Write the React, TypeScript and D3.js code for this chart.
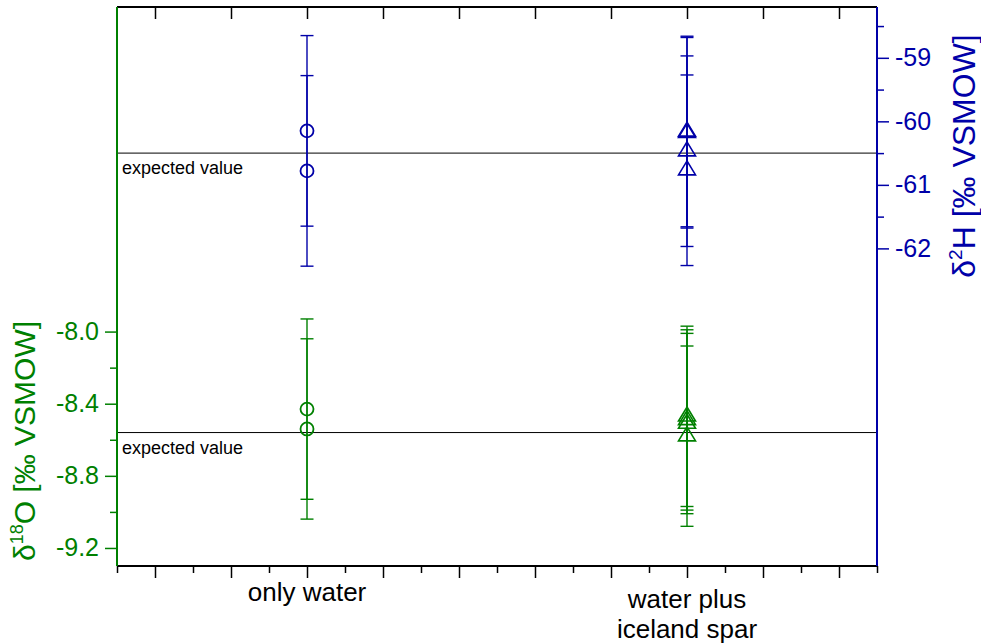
import { useEffect, useRef } from "react";
import * as d3 from "d3";

const categories = ["only water", "water plus\niceland spar"];
const catPos = [1, 2];

// δ18O (left axis)
const o18Water = [-8.43, -8.54];
const o18Spar = [-8.47, -8.49, -8.51, -8.58];
const o18Err = 0.5;
const o18Expected = -8.56;

// δ2H (right axis)
const h2Water = [-60.15, -60.78];
const h2Spar = [-60.16, -60.18, -60.47, -60.77];
const h2Err = 1.5;
const h2Expected = -60.5;

const leftMajor = [-8.0, -8.4, -8.8, -9.2];
const leftMinor = [-8.2, -8.6, -9.0];
const rightMajor = [-59, -60, -61, -62];
const rightMinor = [-58.5, -59.5, -60.5, -61.5];
const xMajor = [0.6, 0.8, 1.0, 1.2, 1.4, 1.6, 1.8, 2.0, 2.2, 2.4];
const xMinor = [0.5, 0.7, 0.9, 1.1, 1.3, 1.5, 1.7, 1.9, 2.1, 2.3, 2.5];

const GREEN = "#008000";
const BLUE = "#0000a8";
const FONT = "Liberation Sans, Arial, sans-serif";

export default function App() {
  const ref = useRef<SVGSVGElement>(null);
  useEffect(() => {
    if (!ref.current) return;
    const svg = d3.select(ref.current);
    svg.selectAll("*").remove();
    const W = 981;
    const H = 643;
    const L = 117, R = 877, T = 7, B = 566;

    const x = d3.scaleLinear().domain([0.5, 2.5]).range([L, R]);
    const yL = d3.scaleLinear().domain([-9.3, -6.2]).range([B, T]);
    const yR = d3.scaleLinear().domain([-67.0, -58.2]).range([B, T]);

    svg.attr("viewBox", `0 0 ${W} ${H}`);

    // expected value lines
    [yR(h2Expected), yL(o18Expected)].forEach((ey) => {
      svg.append("line")
        .attr("x1", L).attr("x2", R)
        .attr("y1", ey).attr("y2", ey)
        .attr("stroke", "#000").attr("stroke-width", 1);
      svg.append("text")
        .attr("x", L + 5).attr("y", ey + 21)
        .attr("font-family", FONT).attr("font-size", 18)
        .text("expected value");
    });

    // error bars + markers
    const drawSeries = (vals: number[], xv: number, err: number, y: d3.ScaleLinear<number, number>, color: string, shape: "circle" | "tri") => {
      const g = svg.append("g").attr("stroke", color).attr("fill", "none");
      const cx = x(xv);
      vals.forEach((v) => {
        g.append("line").attr("x1", cx).attr("x2", cx).attr("y1", y(v + err)).attr("y2", y(v - err)).attr("stroke-width", 1.4);
        [v + err, v - err].forEach((c) => {
          g.append("line").attr("x1", cx - 6.5).attr("x2", cx + 6.5).attr("y1", y(c)).attr("y2", y(c)).attr("stroke-width", 1.4);
        });
      });
      vals.forEach((v) => {
        if (shape === "circle") {
          g.append("circle").attr("cx", cx).attr("cy", y(v)).attr("r", 6.5).attr("stroke-width", 1.8).attr("fill", "none");
        } else {
          const h = 14, w = 17;
          const cy = y(v);
          g.append("path")
            .attr("d", `M${cx},${cy - (2 * h) / 3}L${cx + w / 2},${cy + h / 3}L${cx - w / 2},${cy + h / 3}Z`)
            .attr("stroke-width", 1.6);
        }
      });
    };
    drawSeries(h2Water, catPos[0], h2Err, yR, BLUE, "circle");
    drawSeries(h2Spar, catPos[1], h2Err, yR, BLUE, "tri");
    drawSeries(o18Water, catPos[0], o18Err, yL, GREEN, "circle");
    drawSeries(o18Spar, catPos[1], o18Err, yL, GREEN, "tri");

    const styleAxis = (g: any, color: string, fs: number) => {
      g.select(".domain").remove();
      g.selectAll("line").attr("stroke", color).attr("stroke-width", 1.5);
      g.selectAll("text").attr("font-family", FONT).attr("font-size", fs).attr("fill", color);
    };

    // bottom axis
    svg.append("g").attr("transform", `translate(0,${B})`)
      .call(d3.axisBottom(x).tickValues(xMinor).tickSize(7).tickFormat(() => ""))
      .call((g) => styleAxis(g, "#000", 10));
    svg.append("g").attr("transform", `translate(0,${B})`)
      .call(d3.axisBottom(x).tickValues(xMajor).tickSize(12).tickFormat(() => ""))
      .call((g) => styleAxis(g, "#000", 10));
    // top axis (inward ticks)
    svg.append("g").attr("transform", `translate(0,${T})`)
      .call(d3.axisBottom(x).tickValues(xMajor).tickSize(12).tickFormat(() => ""))
      .call((g) => styleAxis(g, "#000", 10));

    // category labels
    categories.forEach((c, i) => {
      const lines = c.split("\n");
      const t = svg.append("text")
        .attr("x", x(catPos[i])).attr("y", lines.length > 1 ? 608 : 601)
        .attr("text-anchor", "middle")
        .attr("font-family", FONT).attr("font-size", 26);
      lines.forEach((line, j) => {
        t.append("tspan").attr("x", x(catPos[i])).attr("dy", j === 0 ? 0 : 30).text(line);
      });
    });

    // left axis
    svg.append("g").attr("transform", `translate(${L},0)`)
      .call(d3.axisLeft(yL).tickValues(leftMinor).tickSize(7).tickFormat(() => ""))
      .call((g) => styleAxis(g, GREEN, 25));
    svg.append("g").attr("transform", `translate(${L},0)`)
      .call(d3.axisLeft(yL).tickValues(leftMajor).tickSize(12).tickPadding(6).tickFormat((d) => (+d).toFixed(1)))
      .call((g) => styleAxis(g, GREEN, 25));

    // right axis
    svg.append("g").attr("transform", `translate(${R},0)`)
      .call(d3.axisRight(yR).tickValues(rightMinor).tickSize(7).tickFormat(() => ""))
      .call((g) => styleAxis(g, BLUE, 25));
    svg.append("g").attr("transform", `translate(${R},0)`)
      .call(d3.axisRight(yR).tickValues(rightMajor).tickSize(12).tickPadding(6).tickFormat((d) => String(d)))
      .call((g) => styleAxis(g, BLUE, 25));

    // frame lines
    svg.append("line").attr("x1", L).attr("x2", R).attr("y1", T).attr("y2", T).attr("stroke", "#000").attr("stroke-width", 2);
    svg.append("line").attr("x1", L).attr("x2", R).attr("y1", B).attr("y2", B).attr("stroke", "#000").attr("stroke-width", 2);
    svg.append("line").attr("x1", L).attr("x2", L).attr("y1", T).attr("y2", B).attr("stroke", GREEN).attr("stroke-width", 2);
    svg.append("line").attr("x1", R).attr("x2", R).attr("y1", T).attr("y2", B).attr("stroke", BLUE).attr("stroke-width", 2);

    // axis titles
    const lt = svg.append("text")
      .attr("transform", `translate(35,${441}) rotate(-90)`)
      .attr("text-anchor", "middle")
      .attr("font-family", FONT).attr("font-size", 30).attr("fill", GREEN);
    lt.append("tspan").text("δ");
    lt.append("tspan").attr("font-size", 18).attr("dy", -12).text("18");
    lt.append("tspan").attr("dy", 12).text("O [‰ VSMOW]");

    const rt = svg.append("text")
      .attr("transform", `translate(975,${156}) rotate(-90)`)
      .attr("text-anchor", "middle")
      .attr("font-family", FONT).attr("font-size", 32).attr("fill", BLUE);
    rt.append("tspan").text("δ");
    rt.append("tspan").attr("font-size", 19).attr("dy", -13).text("2");
    rt.append("tspan").attr("dy", 13).text("H [‰ VSMOW]");
  }, []);
  return (
    <svg ref={ref} width={981} height={643} style={{ position: "absolute", left: 0, top: 0, background: "#fff" }} />
  );
}
